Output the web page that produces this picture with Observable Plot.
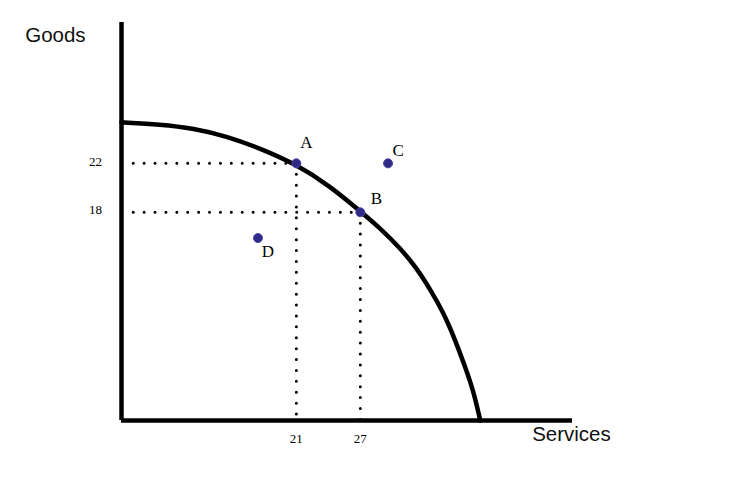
<!DOCTYPE html>
<html>
<head>
<meta charset="utf-8">
<script src="https://cdn.jsdelivr.net/npm/d3@7"></script>
<script src="https://cdn.jsdelivr.net/npm/@observablehq/plot@0.6"></script>
<style>
  html, body { margin: 0; padding: 0; background: #fff; }
</style>
</head>
<body>
<div id="chart"></div>
<script>
// Production possibilities frontier
const ppfServices = [4.6, 8.25, 11.34, 14.53, 17.62, 21.0, 24.19, 27.0, 28.88, 30.75, 32.16, 33.56, 34.78, 35.91, 36.84, 37.59, 38.25];
const ppfGoods    = [25.35, 25.18, 24.86, 24.2, 23.22, 21.92, 20.12, 18.08, 16.69, 15.06, 13.59, 11.71, 9.84, 7.55, 5.35, 3.47, 1.0];

const pointLabels   = ["A", "B", "C", "D"];
const pointServices = [21, 27, 29.6, 17.4];
const pointGoods    = [22, 18, 22, 15.9];

const xTicks = [21, 27];
const yTicks = [22, 18];

const xMin = 4.6, xMax = 46.9, yMin = 1.0, yMax = 33.5;

const curve = ppfServices.map((s, i) => ({s, g: ppfGoods[i]}));
const pts = pointLabels.map((l, i) => ({l, s: pointServices[i], g: pointGoods[i]}));

const labelOffsets = {A: [10, -21], B: [16, -14], C: [10, -13], D: [10, 14]};

const serif = "'Liberation Serif', 'Times New Roman', serif";
const sans = "'Liberation Sans', Arial, sans-serif";

const chart = Plot.plot({
  width: 737,
  height: 479,
  marginLeft: 121,
  marginRight: 165,
  marginTop: 22,
  marginBottom: 59,
  x: {domain: [xMin, xMax], axis: null},
  y: {domain: [yMin, yMax], axis: null},
  style: {background: "#fff"},
  marks: [
    // dotted guide lines
    Plot.link(pts.slice(0, 2), {x1: xMin + 1.1, x2: "s", y1: "g", y2: "g",
      stroke: "#000", strokeWidth: 3, strokeDasharray: "0 10.9", strokeLinecap: "round"}),
    Plot.link(pts.slice(0, 2), {x1: "s", x2: "s", y1: "g", y2: yMin,
      stroke: "#000", strokeWidth: 3, strokeDasharray: "0 10.9", strokeLinecap: "round"}),
    // PPF curve
    Plot.line(curve, {x: "s", y: "g", curve: "basis", stroke: "#000", strokeWidth: 4.5}),
    // axes
    Plot.ruleX([xMin], {y1: yMin, y2: yMax, stroke: "#000", strokeWidth: 4.5}),
    Plot.ruleY([yMin], {x1: xMin, x2: xMax, stroke: "#000", strokeWidth: 4.5}),
    // points
    Plot.dot(pts, {x: "s", y: "g", r: 4.5, fill: "#2f2a85", stroke: "#4a44a8", strokeWidth: 1}),
    ...pts.map(p => Plot.text([p], {x: "s", y: "g", text: "l",
      dx: labelOffsets[p.l][0], dy: labelOffsets[p.l][1],
      fontFamily: serif, fontSize: 17, fill: "#000"})),
    // tick labels
    Plot.text(yTicks, {x: xMin, y: d => d, text: d => String(d), dx: -26, dy: -2,
      fontFamily: serif, fontSize: 13, fill: "#000"}),
    Plot.text(xTicks, {x: d => d, y: yMin, text: d => String(d), dy: 18,
      fontFamily: serif, fontSize: 13, fill: "#000"}),
    // axis titles
    Plot.text(["Goods"], {x: -1.6, y: 32.45, text: d => d, fontFamily: sans, fontSize: 20.5, fill: "#111"}),
    Plot.text(["Services"], {x: 46.8, y: -0.12, text: d => d, fontFamily: sans, fontSize: 20.5, fill: "#111"})
  ]
});
document.getElementById("chart").appendChild(chart);
</script>
</body>
</html>
